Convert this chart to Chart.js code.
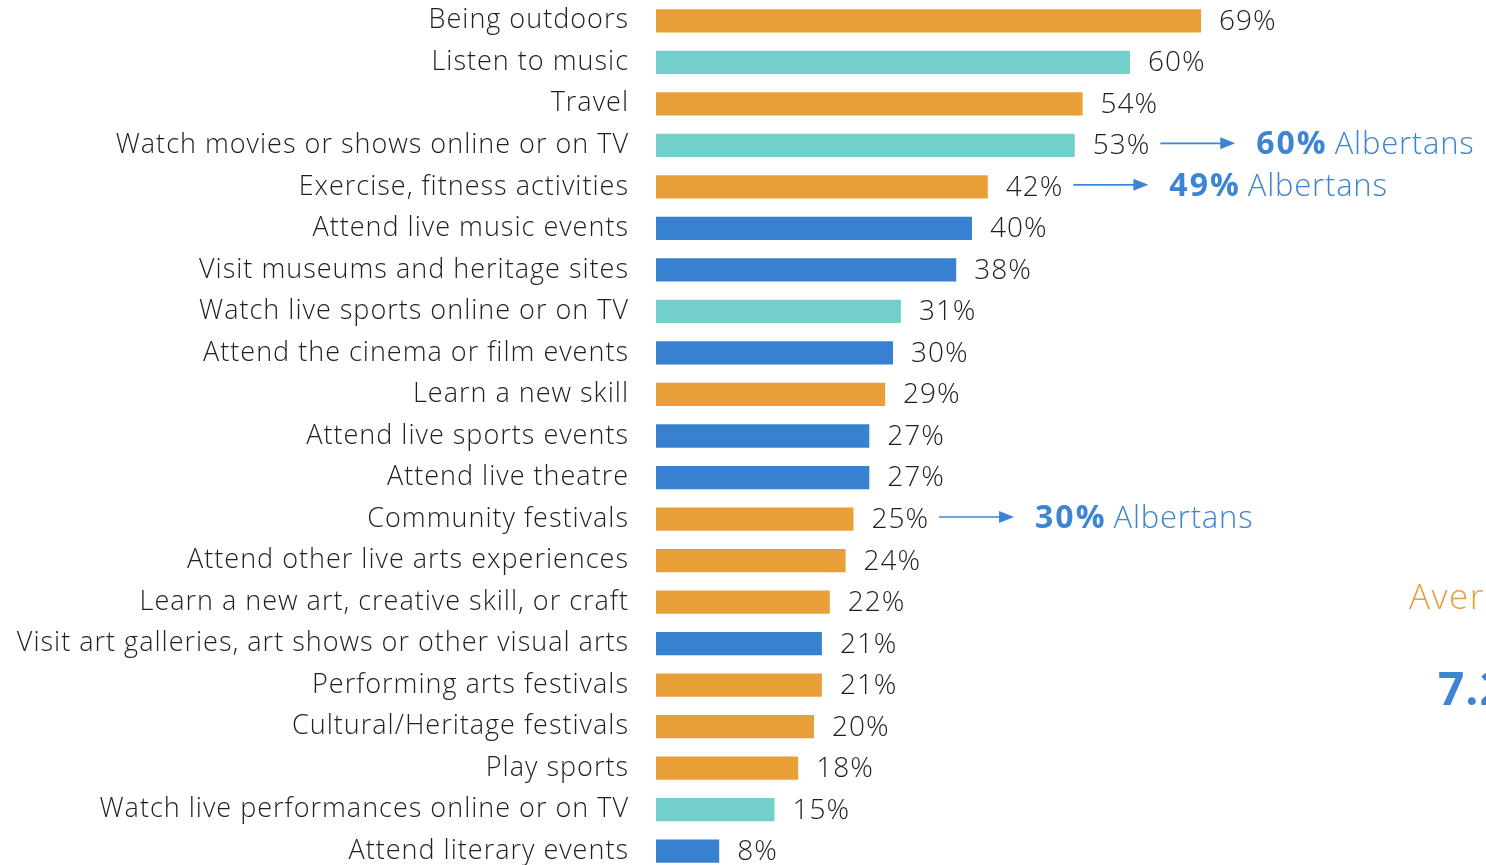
<!DOCTYPE html>
<html>
<head>
<meta charset="utf-8">
<script src="https://cdn.jsdelivr.net/npm/chart.js@4.4.1/dist/chart.umd.min.js"></script>
<style>
  html, body { margin: 0; padding: 0; background: #fff; overflow: hidden; }
  #wrap { position: relative; width: 1486px; height: 872px; }
</style>
</head>
<body>
<div id="wrap"><canvas id="leisureChart" width="1486" height="872"></canvas></div>
<script>
// Activities, share of respondents (%) and which kind of activity each is
const activities = [
    'Being outdoors',
    'Listen to music',
    'Travel',
    'Watch movies or shows online or on TV',
    'Exercise, fitness activities',
    'Attend live music events',
    'Visit museums and heritage sites',
    'Watch live sports online or on TV',
    'Attend the cinema or film events',
    'Learn a new skill',
    'Attend live sports events',
    'Attend live theatre',
    'Community festivals',
    'Attend other live arts experiences',
    'Learn a new art, creative skill, or craft',
    'Visit art galleries, art shows or other visual arts',
    'Performing arts festivals',
    'Cultural/Heritage festivals',
    'Play sports',
    'Watch live performances online or on TV',
    'Attend literary events'
];
const shares = [69, 60, 54, 53, 42, 40, 38, 31, 30, 29, 27, 27, 25, 24, 22, 21, 21, 20, 18, 15, 8];
const kinds = [
    'do', 'screen', 'do', 'screen', 'do', 'attend', 'attend', 'screen', 'attend', 'do',
    'attend', 'attend', 'do', 'do', 'do', 'attend', 'do', 'do', 'do', 'screen', 'attend'
];

// Province comparison callouts
const compareRows = ['Watch movies or shows online or on TV', 'Exercise, fitness activities', 'Community festivals'];
const compareShares = [60, 49, 30];
const compareLabel = 'Albertans';

// Side panel text (runs off the right edge)
const avgTitle = 'Average';
const avgValue = '7.2';

const kindColors = { do: '#E89F37', screen: '#72CFCA', attend: '#3781D0' };
const blue = '#3D85D4';
const ink = '#1f1f1f';
const FONT = '"Open Sans", Lato, sans-serif';

// wider tracking for the category labels
const trackingPlugin = {
    id: 'tracking',
    beforeDraw(chart) {
        chart.ctx.letterSpacing = '1px';
    }
};

const labelsPlugin = {
    id: 'barLabels',
    afterDatasetsDraw(chart) {
        const ctx = chart.ctx;
        const bars = chart.getDatasetMeta(0).data;
        ctx.save();
        ctx.textBaseline = 'middle';
        ctx.textAlign = 'left';

        // value at the end of each bar
        ctx.font = '300 28px ' + FONT;
        ctx.letterSpacing = '1px';
        ctx.fillStyle = ink;
        bars.forEach((bar, i) => {
            ctx.fillText(shares[i] + '%', bar.x + 18, bar.y + 1);
        });

        // arrows pointing to the provincial figure
        compareRows.forEach((name, k) => {
            const i = activities.indexOf(name);
            const bar = bars[i];
            ctx.font = '300 28px ' + FONT;
            ctx.letterSpacing = '1px';
            const x0 = bar.x + 18 + ctx.measureText(shares[i] + '%').width + 10;
            const x1 = x0 + 75;
            const y = bar.y - 2;
            ctx.strokeStyle = blue;
            ctx.fillStyle = blue;
            ctx.lineWidth = 1.6;
            ctx.beginPath();
            ctx.moveTo(x0, y);
            ctx.lineTo(x1 - 12, y);
            ctx.stroke();
            ctx.beginPath();
            ctx.moveTo(x1, y);
            ctx.lineTo(x1 - 15, y - 6);
            ctx.lineTo(x1 - 15, y + 6);
            ctx.closePath();
            ctx.fill();

            const tx = x1 + 21;
            ctx.font = 'bold 32px ' + FONT;
            ctx.letterSpacing = '2px';
            const num = compareShares[k] + '%';
            ctx.fillText(num, tx, bar.y);
            const w = ctx.measureText(num).width;
            ctx.font = '300 31px ' + FONT;
            ctx.letterSpacing = '0.8px';
            ctx.fillText(compareLabel, tx + w + 7, bar.y);
        });

        // side panel, cut by the canvas edge
        ctx.textBaseline = 'alphabetic';
        ctx.fillStyle = '#E89F37';
        ctx.font = '300 35px ' + FONT;
        ctx.letterSpacing = '1.5px';
        ctx.fillText(avgTitle, 1409, 609);
        ctx.fillStyle = blue;
        ctx.font = 'bold 46px ' + FONT;
        ctx.letterSpacing = '1px';
        ctx.fillText(avgValue, 1438, 705);
        ctx.restore();
    }
};

function drawChart() {
    const ctx = document.getElementById('leisureChart').getContext('2d');
    new Chart(ctx, {
        type: 'bar',
        data: {
            labels: activities,
            datasets: [{
                data: shares,
                backgroundColor: kinds.map(k => kindColors[k]),
                barPercentage: 0.56,
                categoryPercentage: 1
            }]
        },
        options: {
            indexAxis: 'y',
            responsive: false,
            animation: false,
            layout: { padding: { left: 0, right: 40, top: 0, bottom: 0 } },
            scales: {
                x: { display: false, min: 0, max: 100 },
                y: {
                    grid: { display: false, drawTicks: false },
                    border: { display: false },
                    afterFit(scale) {
                        scale.width = 656;
                        scale.paddingTop = 0;
                        scale.paddingBottom = 0;
                    },
                    ticks: {
                        padding: 27,
                        color: ink,
                        font: { family: FONT, size: 27, weight: '300' }
                    }
                }
            },
            plugins: {
                legend: { display: false },
                tooltip: { enabled: false }
            }
        },
        plugins: [trackingPlugin, labelsPlugin]
    });
}

Promise.all([
    document.fonts.load('300 27px "Open Sans"'),
    document.fonts.load('bold 32px "Open Sans"')
]).then(drawChart, drawChart);
</script>
</body>
</html>
